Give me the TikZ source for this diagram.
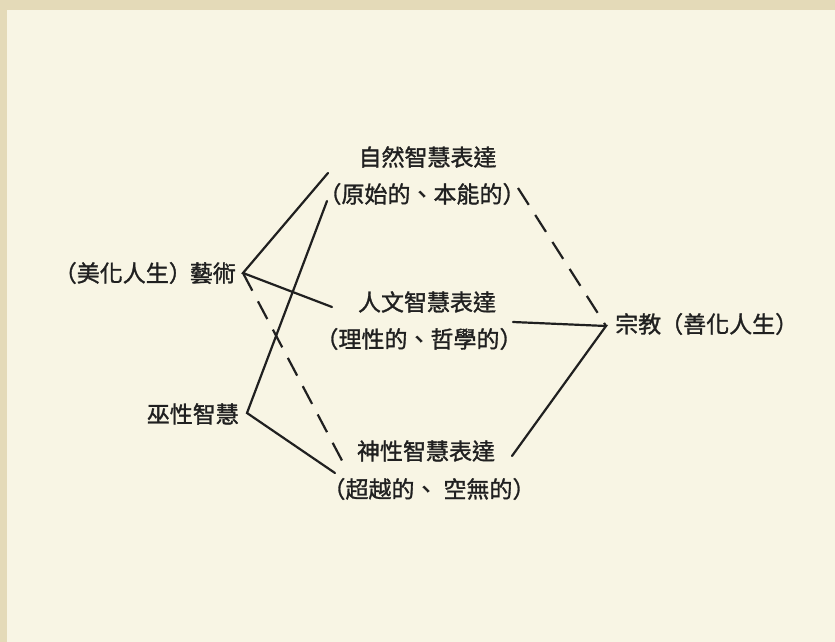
\documentclass[tikz,border=0pt]{standalone}
\usepackage{fontspec}
\newfontfamily\cjk{Noto Sans CJK TC}[FakeBold=1.3]
\definecolor{paper}{RGB}{248,245,228}
\definecolor{tan}{RGB}{228,218,184}
\definecolor{ink}{RGB}{32,32,32}
\newcommand{\lp}{\hspace{-12pt}（}
\newcommand{\rp}{）\hspace{-12pt}}
\tikzset{
  lbl/.style={inner sep=0pt, text=ink, font=\cjk\fontsize{23}{27}\selectfont},
  conn/.style={draw=ink, line width=2.2pt, line cap=round},
  dconn/.style={conn, dash pattern=on 20pt off 12pt, line cap=butt},
}
\begin{document}
\begin{tikzpicture}[x=1pt,y=-1pt]
\useasboundingbox (0,0) rectangle (835,642);
\fill[tan] (0,0) rectangle (835,642);
\fill[paper] (7,10) rectangle (835,642);
% text nodes
\node[lbl] (t1) at (427.5,157) {自然智慧表達};
\node[lbl] (p1) at (428,194) {\lp 原始的、本能的\rp};
\node[lbl] (t2) at (427,302) {人文智慧表達};
\node[lbl] (p2) at (425,339) {\lp 理性的、哲學的\rp};
\node[lbl] (t3) at (426,451) {神性智慧表達};
\node[lbl] (p3) at (435,489) {\lp 超越的、\hspace{6pt}空無的\rp};
\node[lbl, anchor=east] (art) at (236,273) {\lp 美化人生）\hspace{-2pt}藝術};
\node[lbl, anchor=east] (wu) at (239,414) {巫性智慧};
\node[lbl, anchor=west] (rel) at (615,324) {宗教\hspace{-1pt}（善化人生\rp};
% connector ends
\coordinate (A) at (243,273);
\coordinate (W) at (247,413);
\coordinate (R) at (606,326);
\coordinate (t1in) at (328,173);
\coordinate (p1in) at (327,201);
\coordinate (t2in) at (332,307);
\coordinate (t3in) at (335,473);
\coordinate (p3in) at (347,470);
\coordinate (p1out) at (518,188);
\coordinate (p2out) at (513,322);
\coordinate (t3out) at (512,456);
% connectors
\draw[conn] (t1in) -- (A) -- (t2in);
\draw[dconn] (A) -- (p3in);
\draw[conn] (p1in) -- (W) -- (t3in);
\draw[dconn] (p1out) -- (R);
\draw[conn] (p2out) -- (R) -- (t3out);
\end{tikzpicture}
\end{document}
